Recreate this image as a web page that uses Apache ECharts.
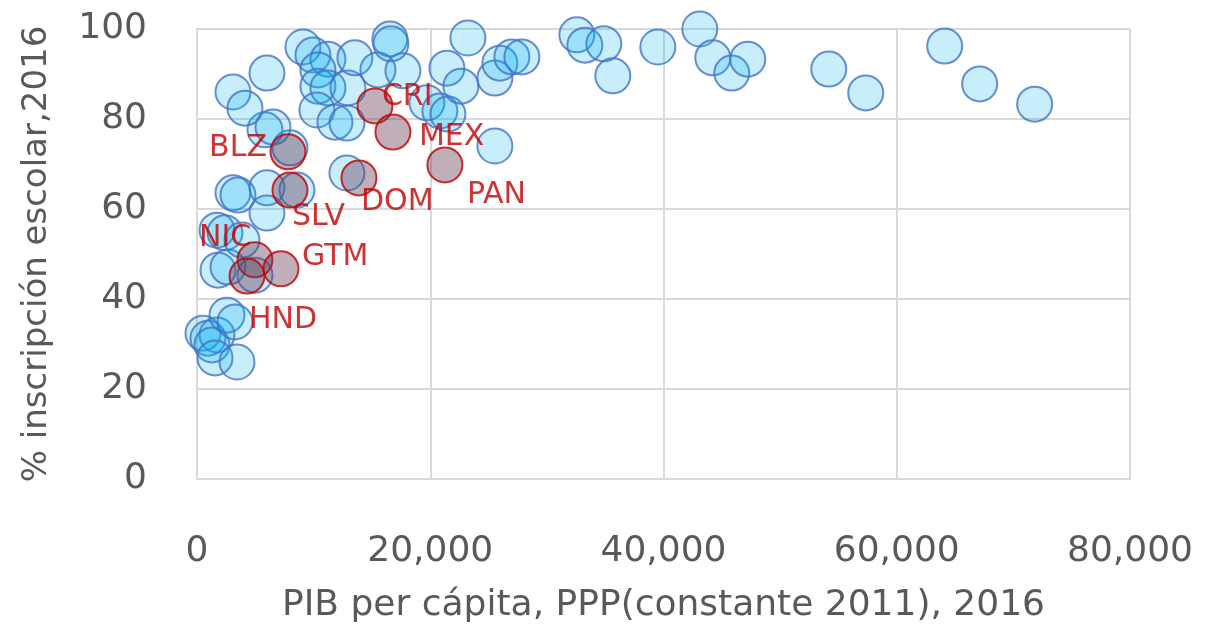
<!DOCTYPE html>
<html>
<head>
<meta charset="utf-8">
<script src="https://cdn.jsdelivr.net/npm/echarts@6/dist/echarts.min.js"></script>
<style>
  html, body { margin: 0; padding: 0; background: #fff; }
  #chart { width: 1212px; height: 633px; }
</style>
</head>
<body>
<div id="chart"></div>
<script>
// other countries (blue bubbles)
var otherGdp = [514, 943, 1714, 1286, 1543, 3428, 2571, 3257, 1800, 2657, 4971,
  1714, 2400, 3857, 3086, 3514, 6000, 6000, 8571, 7971, 5828, 6514, 3086, 4114,
  6000, 9085, 9942, 11228, 10371, 10371, 11228, 12942, 13542, 15513, 17656,
  16542, 16628, 10285, 11828, 12856, 12856, 19713, 20827, 21513, 21428, 22628,
  23228, 25542, 25970, 26999, 27856, 25542, 32570, 33256, 34884, 35656, 39513,
  43112, 44226, 45855, 47226, 54169, 57340, 64111, 67110, 71825];
var otherEnrol = [32.4, 31.3, 32.0, 29.8, 26.9, 26.0, 36.4, 34.9, 46.4, 47.1, 45.3,
  55.3, 54.7, 53.1, 63.6, 63.1, 64.7, 59.1, 64.2, 73.6, 77.6, 78.2, 86.0, 82.4,
  90.2, 96.0, 94.2, 93.3, 90.9, 87.3, 86.9, 86.9, 93.6, 90.9, 90.7,
  97.8, 96.7, 82.0, 79.3, 79.1, 68.0, 83.6, 81.8, 81.1, 91.3, 87.3,
  98.0, 89.1, 92.4, 93.8, 93.8, 74.0, 98.7, 96.4, 96.7, 89.6, 96.0,
  100, 93.6, 90.2, 93.3, 91.1, 85.8, 96.2, 87.8, 83.3];

// highlighted countries (red bubbles)
var regionCodes = ["CRI", "MEX", "PAN", "DOM", "BLZ", "SLV", "NIC", "GTM", "HND"];
var regionGdp = [15256, 16799, 21256, 13885, 7800, 7971, 4971, 7200, 4286];
var regionEnrol = [82.9, 77.1, 69.8, 66.9, 72.7, 64.2, 48.7, 46.7, 45.1];

var xMin = 0, xMax = 80000, xStep = 20000;
var yMin = 0, yMax = 100, yStep = 20;

var xTitle = "PIB per cápita, PPP(constante 2011), 2016";
var yTitle = "% inscripción escolar,2016";

// label placement (offset of text from bubble centre)
var bubble = 35;
var labelOffsets = {
  CRI: [8, -8, "left"], MEX: [27, 6, "left"], PAN: [23, 31, "left"],
  DOM: [3, 25, "left"], BLZ: [-20, -3, "right"], SLV: [3, 28, "left"],
  NIC: [-55, -21, "left"], GTM: [22, -11, "left"], HND: [3, 45, "left"]
};

var font = "DejaVu Sans";
var grey = "#595959";

var otherData = otherGdp.map(function (g, i) { return [g, otherEnrol[i]]; });
var regionData = regionGdp.map(function (g, i) {
  var o = labelOffsets[regionCodes[i]];
  return {
    value: [g, regionEnrol[i]],
    name: regionCodes[i],
    label: {
      position: [bubble / 2 + o[0], bubble / 2 + o[1]],
      align: o[2]
    }
  };
});

var chart = echarts.init(document.getElementById("chart"), null, { renderer: "canvas" });

chart.setOption({
  animation: false,
  grid: { left: 197, right: 82, top: 29, bottom: 154 },
  xAxis: {
    type: "value",
    min: xMin, max: xMax, interval: xStep,
    name: xTitle,
    nameLocation: "middle",
    nameGap: 109,
    nameTextStyle: { fontFamily: font, fontSize: 36, color: grey },
    axisLine: { show: true, lineStyle: { color: "#D9D9D9", width: 2 } },
    axisTick: { show: false },
    splitLine: { show: true, lineStyle: { color: "#D9D9D9", width: 2 } },
    axisLabel: {
      fontFamily: font, fontSize: 36, color: grey, margin: 55,
      formatter: function (v) { return v.toLocaleString("en-US"); }
    }
  },
  yAxis: {
    type: "value",
    min: yMin, max: yMax, interval: yStep,
    name: yTitle,
    nameLocation: "middle",
    nameRotate: 90,
    nameGap: 143,
    nameTextStyle: { fontFamily: font, fontSize: 34, color: grey },
    axisLine: { show: true, lineStyle: { color: "#D9D9D9", width: 2 } },
    axisTick: { show: false },
    splitLine: { show: true, lineStyle: { color: "#D9D9D9", width: 2 } },
    axisLabel: { fontFamily: font, fontSize: 36, color: grey, margin: 50 }
  },
  series: [
    {
      type: "scatter",
      data: otherData,
      symbolSize: bubble,
      itemStyle: {
        color: "rgba(0,176,240,0.27)",
        borderColor: "#4472C4",
        borderWidth: 2
      }
    },
    {
      type: "scatter",
      data: regionData,
      symbolSize: bubble,
      itemStyle: {
        color: "rgba(104,60,84,0.52)",
        borderColor: "#C00000",
        borderWidth: 2
      },
      label: {
        show: true,
        formatter: "{b}",
        verticalAlign: "middle",
        fontFamily: font,
        fontSize: 30,
        color: "#C00000"
      }
    }
  ]
});
</script>
</body>
</html>
